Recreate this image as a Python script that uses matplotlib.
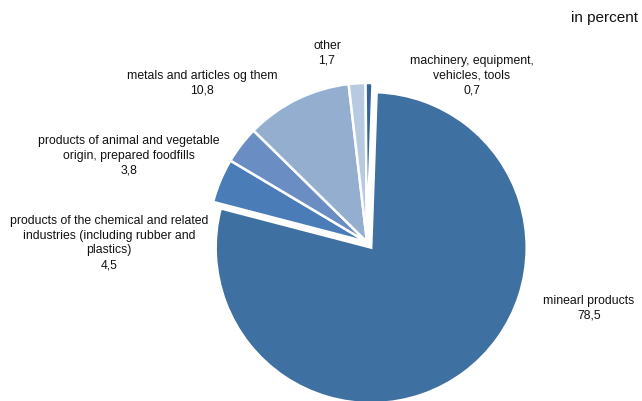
import matplotlib
matplotlib.use("Agg")
import matplotlib.pyplot as plt

categories = ["minearl products",
              "products of the chemical and related\nindustries (including rubber and\nplastics)",
              "products of animal and vegetable\norigin, prepared foodfills",
              "metals and articles og them",
              "other",
              "machinery, equipment,\nvehicles, tools"]
values = [78.5, 4.5, 3.8, 10.8, 1.7, 0.7]
value_labels = ["78,5", "4,5", "3,8", "10,8", "1,7", "0,7"]
colors = ["#3E70A2", "#4A7DB8", "#6A8EC4", "#94AED0", "#B8CAE2", "#34659A"]

W, H = 642, 402
R = 159
explode_px = [7, 0, 0, 0, 0, 0]

# label positions (pixel coordinates, top-left origin)
label_pos = [(589, 308), (109, 243), (129, 156), (202, 83), (327, 53), (472, 76)]

plt.rcParams['font.family'] = ['Liberation Sans', 'DejaVu Sans']
fig = plt.figure(figsize=(6.42, 4.02), dpi=100)
ax = fig.add_axes([0, 0, 1, 1])

wedges, _ = ax.pie(values, colors=colors, explode=explode_px, startangle=88,
                   counterclock=False, center=(367, H - 243), radius=R,
                   wedgeprops=dict(edgecolor='white', linewidth=1.8))
# the big slice is drawn slightly smaller, as in the original chart
wedges[0].set_radius(R - 3.5)

ax.set_xlim(0, W)
ax.set_ylim(0, H)
ax.set_aspect('equal')
ax.axis('off')

for cat, vl, (x, y) in zip(categories, value_labels, label_pos):
    ax.text(x, H - y, cat + "\n" + vl, ha='center', va='center', fontsize=8.8,
            linespacing=1.3, color='#111111')

ax.text(638, H - 18, "in percent", ha='right', va='center', fontsize=11, color='#111111')

fig.savefig("out.png", dpi=100)
